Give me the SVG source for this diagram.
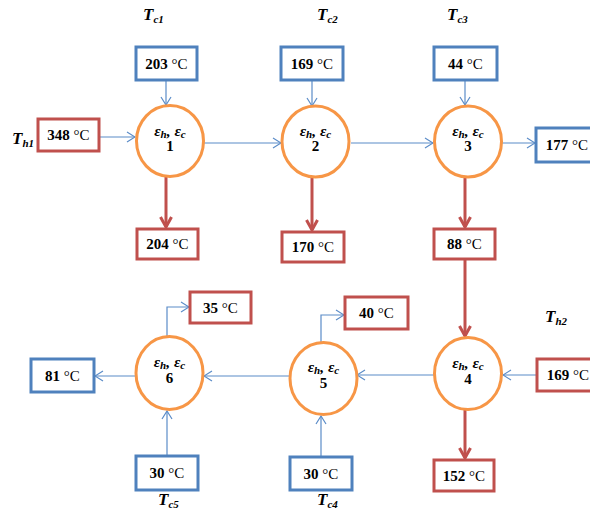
<svg xmlns="http://www.w3.org/2000/svg" width="590" height="513" viewBox="0 0 590 513">
<defs>
<style>
.bb{fill:#fff;stroke:#4F81BD;stroke-width:3}
.rb{fill:#fff;stroke:#C0504D;stroke-width:3}
.hx{fill:#fff;stroke:#F79646;stroke-width:3}
.t{font-family:"Liberation Serif","DejaVu Serif",serif;font-size:15px;font-weight:bold;fill:#000;text-anchor:middle}
.u{font-weight:normal}
.e{font-family:"Liberation Serif","DejaVu Serif",serif;font-size:15.5px;font-weight:bold;font-style:italic;fill:#000;text-anchor:middle}
.n{font-family:"Liberation Serif","DejaVu Serif",serif;font-size:15px;font-weight:bold;fill:#000;text-anchor:middle}
.lb{font-family:"Liberation Serif","DejaVu Serif",serif;font-size:17px;font-weight:bold;font-style:italic;fill:#000}
.s{font-size:11px}
.bl{fill:none;stroke:#5B8CC8;stroke-width:1.2}
.rl{fill:none;stroke:#C0504D;stroke-width:3}
</style>
<marker id="ab" viewBox="0 0 10 12" markerWidth="10" markerHeight="12" refX="9" refY="6" orient="auto" markerUnits="userSpaceOnUse">
<path d="M1,1 L9,6 L1,11" fill="none" stroke="#5B8CC8" stroke-width="1.2"/>
</marker>
<marker id="ar" viewBox="0 0 14 14" markerWidth="14" markerHeight="14" refX="12" refY="7" orient="auto" markerUnits="userSpaceOnUse">
<path d="M2,1.5 L12,7 L2,12.5" fill="none" stroke="#C0504D" stroke-width="3"/>
</marker>
</defs>
<rect width="590" height="513" fill="#fff"/>

<g id="connectors">
<line class="bl" x1="99" y1="137" x2="135" y2="137" marker-end="url(#ab)"/>
<line class="bl" x1="166" y1="80" x2="166" y2="105" marker-end="url(#ab)"/>
<line class="bl" x1="203" y1="143" x2="281" y2="143" marker-end="url(#ab)"/>
<line class="bl" x1="312" y1="80" x2="312" y2="106" marker-end="url(#ab)"/>
<line class="bl" x1="351" y1="143" x2="433" y2="143" marker-end="url(#ab)"/>
<line class="bl" x1="465" y1="80" x2="465" y2="105" marker-end="url(#ab)"/>
<line class="bl" x1="502" y1="143" x2="535" y2="143" marker-end="url(#ab)"/>
<line class="rl" x1="166" y1="176" x2="166" y2="227" marker-end="url(#ar)"/>
<line class="rl" x1="312" y1="177" x2="312" y2="230" marker-end="url(#ar)"/>
<line class="rl" x1="465" y1="177" x2="465" y2="227" marker-end="url(#ar)"/>
<line class="rl" x1="465" y1="259" x2="465" y2="336" marker-end="url(#ar)"/>
<line class="rl" x1="465" y1="410" x2="465" y2="458" marker-end="url(#ar)"/>
<line class="bl" x1="537" y1="375" x2="503" y2="375" marker-end="url(#ab)"/>
<line class="bl" x1="434" y1="375" x2="357" y2="375" marker-end="url(#ab)"/>
<line class="bl" x1="290" y1="376" x2="204" y2="376" marker-end="url(#ab)"/>
<line class="bl" x1="136" y1="376" x2="95" y2="376" marker-end="url(#ab)"/>
<line class="bl" x1="321" y1="457" x2="321" y2="416" marker-end="url(#ab)"/>
<line class="bl" x1="167" y1="456" x2="167" y2="411" marker-end="url(#ab)"/>
<path class="bl" d="M321,342 V315 H344" marker-end="url(#ab)"/>
<path class="bl" d="M167,336 V307 H189" marker-end="url(#ab)"/>
</g>

<g id="labels">
<text class="lb" x="143" y="20">T<tspan class="s" dy="3">c1</tspan></text>
<text class="lb" x="317" y="20">T<tspan class="s" dy="3">c2</tspan></text>
<text class="lb" x="447" y="20">T<tspan class="s" dy="3">c3</tspan></text>
<text class="lb" x="12" y="144">T<tspan class="s" dy="3">h1</tspan></text>
<text class="lb" x="545" y="322">T<tspan class="s" dy="3">h2</tspan></text>
<text class="lb" x="158" y="505">T<tspan class="s" dy="3">c5</tspan></text>
<text class="lb" x="317" y="505">T<tspan class="s" dy="3">c4</tspan></text>
</g>

<g id="hx1"><ellipse class="hx" cx="170" cy="141" rx="33.5" ry="35.5"/>
<text class="e" x="170" y="136">ε<tspan class="s" dy="2">h</tspan><tspan dy="-2">, ε</tspan><tspan class="s" dy="2">c</tspan></text>
<text class="n" x="170" y="151">1</text></g>
<g id="hx2"><ellipse class="hx" cx="315.5" cy="141.5" rx="33.5" ry="35.5"/>
<text class="e" x="315.5" y="136">ε<tspan class="s" dy="2">h</tspan><tspan dy="-2">, ε</tspan><tspan class="s" dy="2">c</tspan></text>
<text class="n" x="315.5" y="151">2</text></g>
<g id="hx3"><ellipse class="hx" cx="468" cy="141.5" rx="33.5" ry="35.5"/>
<text class="e" x="468" y="136">ε<tspan class="s" dy="2">h</tspan><tspan dy="-2">, ε</tspan><tspan class="s" dy="2">c</tspan></text>
<text class="n" x="468" y="151">3</text></g>
<g id="hx4"><ellipse class="hx" cx="468" cy="373.5" rx="33.5" ry="36"/>
<text class="e" x="468" y="368">ε<tspan class="s" dy="2">h</tspan><tspan dy="-2">, ε</tspan><tspan class="s" dy="2">c</tspan></text>
<text class="n" x="468" y="384">4</text></g>
<g id="hx5"><ellipse class="hx" cx="323.5" cy="378.5" rx="33.5" ry="36"/>
<text class="e" x="323.5" y="372">ε<tspan class="s" dy="2">h</tspan><tspan dy="-2">, ε</tspan><tspan class="s" dy="2">c</tspan></text>
<text class="n" x="323.5" y="388">5</text></g>
<g id="hx6"><ellipse class="hx" cx="169.5" cy="373" rx="33.5" ry="36.5"/>
<text class="e" x="169.5" y="367">ε<tspan class="s" dy="2">h</tspan><tspan dy="-2">, ε</tspan><tspan class="s" dy="2">c</tspan></text>
<text class="n" x="169.5" y="383">6</text></g>

<g id="b203"><rect class="bb" x="136" y="47" width="61" height="33"/><text class="t" x="166.5" y="68.5">203 <tspan class="u">°C</tspan></text></g>
<g id="b169a"><rect class="bb" x="281" y="47" width="62" height="33"/><text class="t" x="312" y="68.5">169 <tspan class="u">°C</tspan></text></g>
<g id="b44"><rect class="bb" x="434" y="47" width="63" height="33"/><text class="t" x="465.5" y="68.5">44 <tspan class="u">°C</tspan></text></g>
<g id="b348"><rect class="rb" x="38" y="119" width="61" height="32"/><text class="t" x="68.5" y="140">348 <tspan class="u">°C</tspan></text></g>
<g id="b177"><rect class="bb" x="536" y="128" width="62" height="34"/><text class="t" x="567" y="150">177 <tspan class="u">°C</tspan></text></g>
<g id="b204"><rect class="rb" x="137" y="229" width="61" height="30"/><text class="t" x="167.5" y="249">204 <tspan class="u">°C</tspan></text></g>
<g id="b170"><rect class="rb" x="282" y="232" width="62" height="30"/><text class="t" x="313" y="252">170 <tspan class="u">°C</tspan></text></g>
<g id="b88"><rect class="rb" x="434" y="229" width="61" height="30"/><text class="t" x="464.5" y="249">88 <tspan class="u">°C</tspan></text></g>
<g id="b35"><rect class="rb" x="190" y="292" width="61" height="31"/><text class="t" x="220.5" y="312.5">35 <tspan class="u">°C</tspan></text></g>
<g id="b40"><rect class="rb" x="345" y="297" width="63" height="32"/><text class="t" x="376.5" y="318">40 <tspan class="u">°C</tspan></text></g>
<g id="b81"><rect class="bb" x="31" y="359" width="63" height="33"/><text class="t" x="62.5" y="380.5">81 <tspan class="u">°C</tspan></text></g>
<g id="b169b"><rect class="rb" x="537" y="359" width="62" height="32"/><text class="t" x="568" y="380">169 <tspan class="u">°C</tspan></text></g>
<g id="b30a"><rect class="bb" x="136" y="456" width="62" height="34"/><text class="t" x="167" y="478">30 <tspan class="u">°C</tspan></text></g>
<g id="b30b"><rect class="bb" x="290" y="457" width="62" height="33"/><text class="t" x="321" y="478.5">30 <tspan class="u">°C</tspan></text></g>
<g id="b152"><rect class="rb" x="434" y="460" width="60" height="31"/><text class="t" x="464" y="480.5">152 <tspan class="u">°C</tspan></text></g>
</svg>
